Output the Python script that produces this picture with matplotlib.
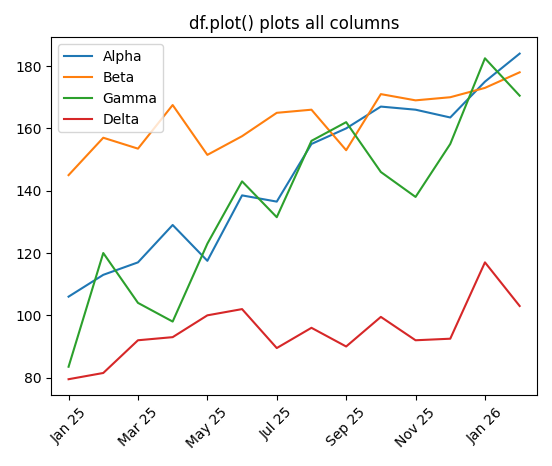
import matplotlib
matplotlib.use("Agg")
import matplotlib.pyplot as plt

months = ["Jan 25","Feb 25","Mar 25","Apr 25","May 25","Jun 25","Jul 25","Aug 25",
          "Sep 25","Oct 25","Nov 25","Dec 25","Jan 26","Feb 26"]
alpha = [106, 113, 117, 129, 117.5, 138.5, 136.5, 155, 160, 167, 166, 163.5, 175, 184]
beta = [145, 157, 153.5, 167.5, 151.5, 157.5, 165, 166, 153, 171, 169, 170, 173, 178]
gamma = [83.5, 120, 104, 98, 123, 143, 131.5, 156, 162, 146, 138, 155, 182.5, 170.5]
delta = [79.5, 81.5, 92, 93, 100, 102, 89.5, 96, 90, 99.5, 92, 92.5, 117, 103]

fig, ax = plt.subplots(figsize=(5.52, 4.66), dpi=100)
x = list(range(len(months)))
for name, vals in [("Alpha", alpha), ("Beta", beta), ("Gamma", gamma), ("Delta", delta)]:
    ax.plot(x, vals, label=name)
ax.set_xticks(x[::2])
ax.set_xticklabels(months[::2], rotation=45)
ax.set_xlim(-0.5, 13.5)
ax.set_title("df.plot() plots all columns")
ax.legend(loc="upper left")
fig.tight_layout()
fig.savefig("out.png")
